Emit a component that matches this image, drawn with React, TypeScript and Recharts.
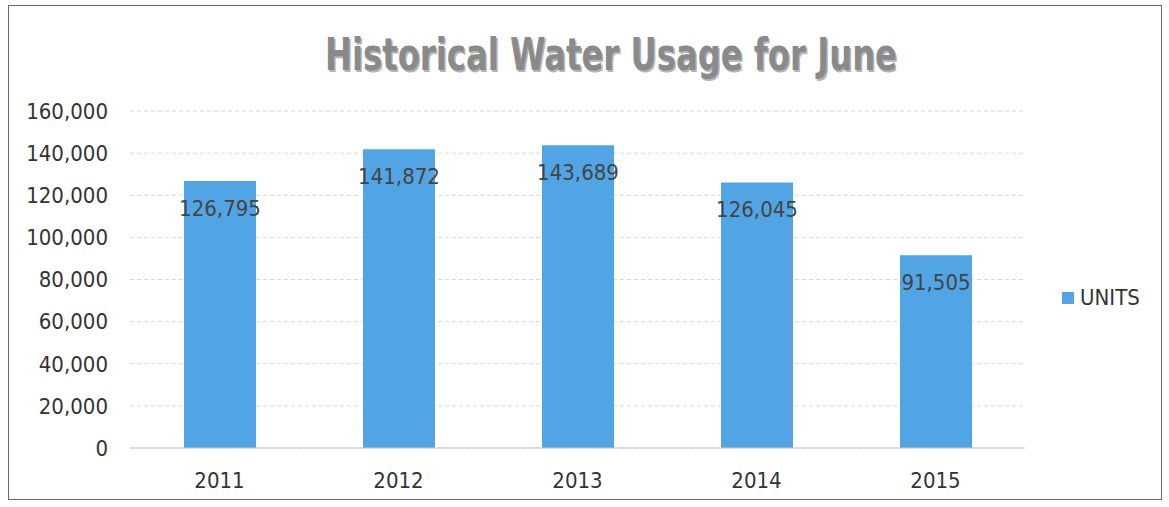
import React from 'react';
import { BarChart, Bar, XAxis, YAxis, CartesianGrid, LabelList } from 'recharts';

const years = ['2011', '2012', '2013', '2014', '2015'];
const units = [126795, 141872, 143689, 126045, 91505];
const yTicks = [0, 20000, 40000, 60000, 80000, 100000, 120000, 140000, 160000];
const title = 'Historical Water Usage for June';
const seriesName = 'UNITS';

const data = years.map((y, i) => ({ year: y, units: units[i] }));

const FONT = '"Liberation Sans Narrow", "DejaVu Sans Condensed", "Open Sans", sans-serif';
const fmt = (v: number) => v.toLocaleString('en-US');

export default function App() {
  return (
    <div style={{ position: 'absolute', left: 0, top: 0, width: 1169, height: 507, background: '#fff', overflow: 'hidden' }}>
      <div style={{ position: 'absolute', left: 8, top: 5, width: 1152, height: 493, border: '1.5px solid #6a6a6a' }} />
      <svg style={{ position: 'absolute', left: 0, top: 0 }} width={1169} height={100}>
        <text x={611} y={70} textAnchor="middle" fontFamily={FONT} fontWeight="bold" fontSize={44}
          fill="#5a5a5a" textLength={572} lengthAdjust="spacingAndGlyphs" opacity={0.45} transform="translate(1.5,1.5)">{title}</text>
        <text x={611} y={70} textAnchor="middle" fontFamily={FONT} fontWeight="bold" fontSize={44}
          fill="#8a8a8a" textLength={572} lengthAdjust="spacingAndGlyphs">{title}</text>
      </svg>
      <div style={{ position: 'absolute', left: 0, top: 0 }}>
        <BarChart width={1169} height={507} data={data} margin={{ top: 111, right: 144, bottom: 19, left: 20 }}>
          <CartesianGrid vertical={false} stroke="#d8d8d8" strokeDasharray="4 3" />
          <XAxis dataKey="year" height={40} tickSize={0} tickMargin={24} axisLine={{ stroke: '#c8c8c8' }} tickLine={false}
            tick={{ fill: '#333', fontSize: 22, fontFamily: FONT }} />
          <YAxis width={110} domain={[0, 160000]} ticks={yTicks} interval={0} tickSize={0} tickMargin={22}
            axisLine={false} tickLine={false} tickFormatter={fmt}
            tick={{ fill: '#333', fontSize: 22, fontFamily: FONT }} />
          <Bar dataKey="units" name={seriesName} fill="#52a5e4" barSize={72} isAnimationActive={false}>
            <LabelList dataKey="units" position="insideTop" offset={19} formatter={(v: any) => fmt(Number(v))}
              style={{ fill: '#444', fontSize: 22, fontFamily: FONT }} />
          </Bar>
        </BarChart>
      </div>
      <div style={{ position: 'absolute', left: 1062, top: 285, display: 'flex', alignItems: 'center', fontFamily: FONT, fontSize: 22, color: '#333' }}>
        <span style={{ display: 'inline-block', width: 12, height: 12, background: '#52a5e4', marginRight: 6 }} />
        <span>{seriesName}</span>
      </div>
    </div>
  );
}
